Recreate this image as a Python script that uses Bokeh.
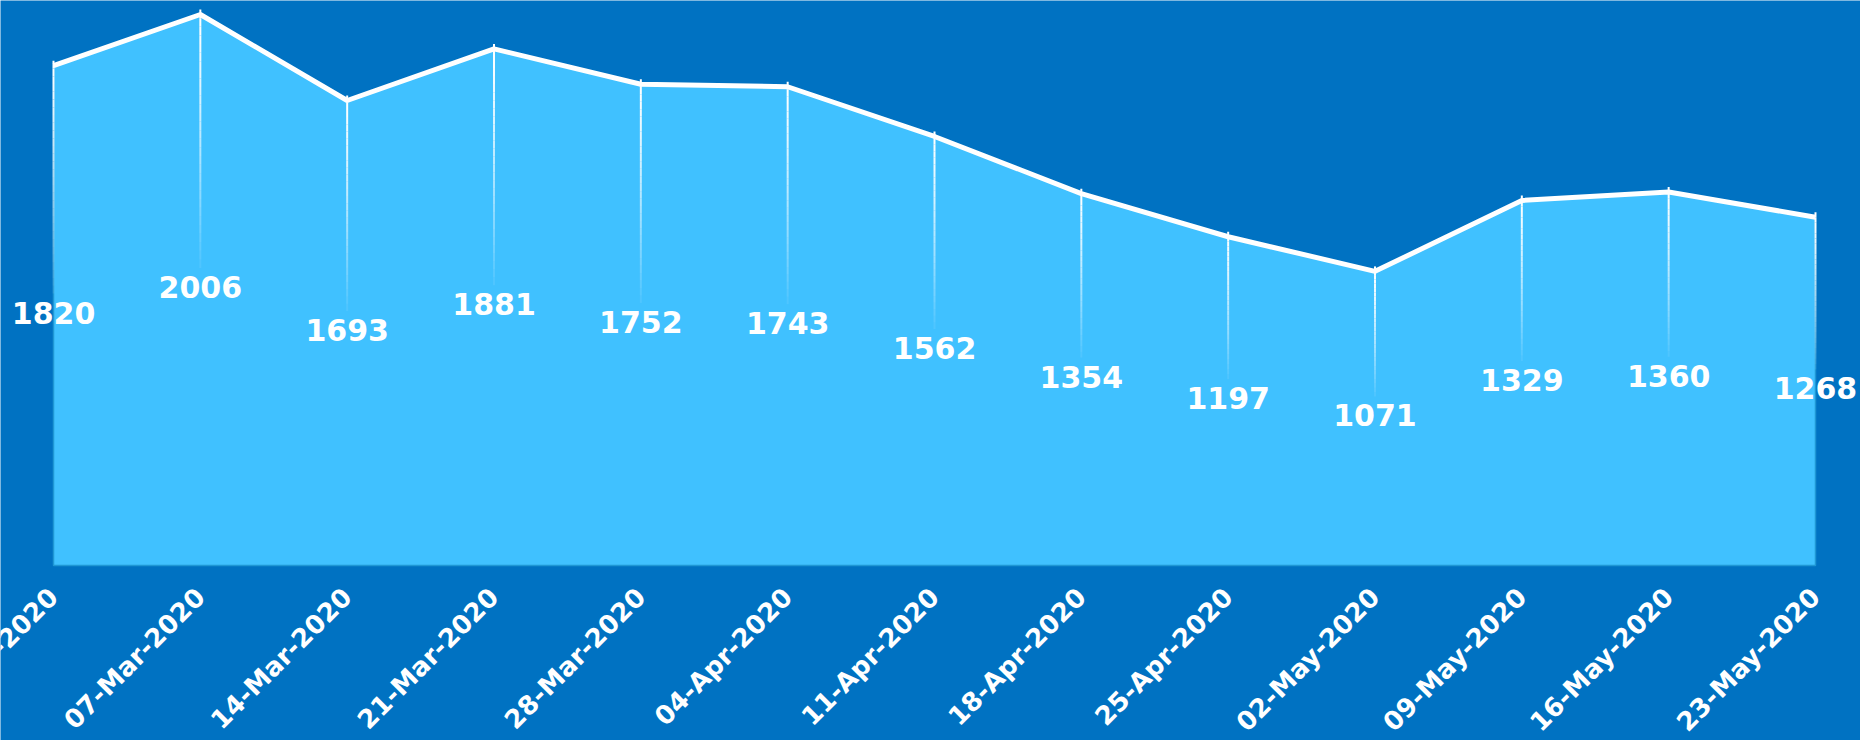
import math
from bokeh.plotting import figure
from bokeh.models import Range1d, ColumnDataSource
from bokeh.core.properties import value
from bokeh.embed import file_html
from bokeh.resources import INLINE

# ---- data ----
dates = ["29-Feb-2020", "07-Mar-2020", "14-Mar-2020", "21-Mar-2020", "28-Mar-2020",
         "04-Apr-2020", "11-Apr-2020", "18-Apr-2020", "25-Apr-2020", "02-May-2020",
         "09-May-2020", "16-May-2020", "23-May-2020"]
counts = [1820, 2006, 1693, 1881, 1752, 1743, 1562, 1354, 1197, 1071, 1329, 1360, 1268]

BG = "#0072C2"
AREA = "#40C1FF"
AREA_EDGE = "#1F97D4"
FONT = "DejaVu Sans"

idx = list(range(len(dates)))

p = figure(width=1860, height=740, output_backend="svg", toolbar_location=None,
           x_range=Range1d(-0.361, 12.3065), y_range=Range1d(-637, 2057),
           min_border_left=0, min_border_right=0, min_border_top=0, min_border_bottom=0)
p.background_fill_color = BG
p.border_fill_color = BG
p.outline_line_color = None
p.grid.visible = False
p.axis.visible = False

# area
px = [idx[0]] + idx + [idx[-1]]
py = [0] + counts + [0]
p.patch(px, py, fill_color=AREA, line_color=AREA_EDGE, line_width=1.5)

# fading vertical drop lines from point to label
N = 30
x0s, y0s, y1s, alphas = [], [], [], []
for i, v in zip(idx, counts):
    top = v + 18
    bot = v / 2.0 + 80
    for k in range(N):
        a = top - (top - bot) * k / N
        b = top - (top - bot) * (k + 1) / N
        x0s.append(i)
        y0s.append(a)
        y1s.append(b)
        alphas.append(1.0 - 0.92 * (k / (N - 1)) ** 1.3)
seg = ColumnDataSource(dict(x=x0s, y0=y0s, y1=y1s, a=alphas))
p.segment(x0="x", y0="y0", x1="x", y1="y1", source=seg, line_color="white",
          line_alpha="a", line_width=2)

# white top line
p.line(idx, counts, line_color="white", line_width=5)

# value labels
lab = ColumnDataSource(dict(x=idx, y=[v / 2.0 for v in counts], t=[str(v) for v in counts]))
p.text(x="x", y="y", text="t", source=lab, text_color="white",
       text_font=value(FONT), text_font_style="bold", text_font_size="30px",
       text_align="center", text_baseline="alphabetic", y_offset=-3)

# x (date) labels, rotated
dl = ColumnDataSource(dict(x=idx, y=[0] * len(idx), t=dates))
p.text(x="x", y="y", text="t", source=dl, text_color="white", angle=math.pi / 4,
       text_font=value(FONT), text_font_style="bold", text_font_size="26px",
       text_align="right", text_baseline="middle", y_offset=27)

open("out.html", "w").write(file_html(p, INLINE))
